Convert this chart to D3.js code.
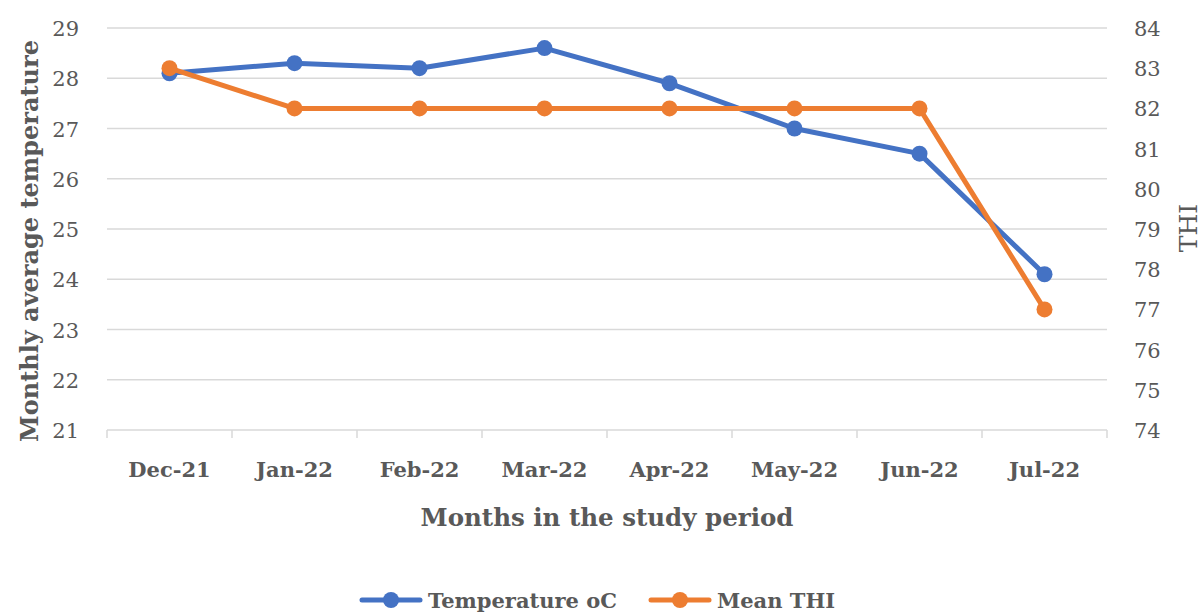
<!DOCTYPE html>
<html>
<head>
<meta charset="utf-8">
<script src="https://cdn.jsdelivr.net/npm/d3@7"></script>
<style>
  body{margin:0;background:#fff;}
  text{font-family:"DejaVu Serif",serif;fill:#595959;}
</style>
</head>
<body>
<div id="chart"></div>
<script>
// data
let months=["Dec-21","Jan-22","Feb-22","Mar-22","Apr-22","May-22","Jun-22","Jul-22"]
let temperature=[28.1,28.3,28.2,28.6,27.9,27.0,26.5,24.1]
let meanTHI=[83,82,82,82,82,82,82,77]
let leftTicks=[21,22,23,24,25,26,27,28,29]
let rightTicks=[74,75,76,77,78,79,80,81,82,83,84]

let width=1203, height=612
let plotLeft=107, plotRight=1107, plotTop=28, plotBottom=430
let blue="#4472C4", orange="#ED7D31"

const svg=d3.select("#chart").append("svg").attr("width",width).attr("height",height)

const x=d3.scaleBand().domain(months).range([plotLeft,plotRight])
const yL=d3.scaleLinear().domain([21,29]).range([plotBottom,plotTop])
const yR=d3.scaleLinear().domain([74,84]).range([plotBottom,plotTop])

// gridlines
svg.append("g").selectAll("line").data(leftTicks.slice(1)).enter().append("line")
  .attr("x1",plotLeft).attr("x2",plotRight).attr("y1",d=>yL(d)).attr("y2",d=>yL(d))
  .attr("stroke","#d9d9d9").attr("stroke-width",1.5)

// x axis
const xAxis=svg.append("g").attr("transform","translate(0,"+plotBottom+")")
xAxis.append("line").attr("x1",plotLeft).attr("x2",plotRight).attr("stroke","#d9d9d9").attr("stroke-width",1.5)
xAxis.selectAll("line.tk").data(d3.range(months.length+1)).enter().append("line").attr("class","tk")
  .attr("x1",i=>plotLeft+i*x.bandwidth()).attr("x2",i=>plotLeft+i*x.bandwidth()).attr("y1",0).attr("y2",8)
  .attr("stroke","#d9d9d9").attr("stroke-width",1.5)
xAxis.selectAll("text").data(months).enter().append("text")
  .attr("x",d=>x(d)+x.bandwidth()/2).attr("y",47).attr("text-anchor","middle")
  .attr("font-size",21).attr("font-weight","bold").text(d=>d)

// left ticks
svg.append("g").selectAll("text").data(leftTicks).enter().append("text")
  .attr("x",79).attr("y",d=>yL(d)+8).attr("text-anchor","end").attr("font-size",21).text(d=>d)
// right ticks
svg.append("g").selectAll("text").data(rightTicks).enter().append("text")
  .attr("x",1134).attr("y",d=>yR(d)+8).attr("font-size",21).text(d=>d)

// axis titles
svg.append("text").attr("transform","translate(38,"+((plotTop+plotBottom)/2+12)+") rotate(-90)")
  .attr("text-anchor","middle").attr("font-size",24).attr("font-weight","bold").text("Monthly average temperature")
svg.append("text").attr("transform","translate(1197,228) rotate(-90)")
  .attr("text-anchor","middle").attr("font-size",25).text("THI")
svg.append("text").attr("x",607).attr("y",526).attr("text-anchor","middle")
  .attr("font-size",24.5).attr("font-weight","bold").text("Months in the study period")

// series
function drawSeries(values,scale,color){
  const line=d3.line().x((d,i)=>x(months[i])+x.bandwidth()/2).y(d=>scale(d))
  svg.append("path").datum(values).attr("d",line).attr("fill","none")
    .attr("stroke",color).attr("stroke-width",5).attr("stroke-linejoin","round")
  svg.append("g").selectAll("circle").data(values).enter().append("circle")
    .attr("cx",(d,i)=>x(months[i])+x.bandwidth()/2).attr("cy",d=>scale(d)).attr("r",8).attr("fill",color)
}
drawSeries(temperature,yL,blue)
drawSeries(meanTHI,yR,orange)

// legend
let legend=[{name:"Temperature oC",color:blue,x:362},{name:"Mean THI",color:orange,x:651}]
const lg=svg.append("g").selectAll("g").data(legend).enter().append("g")
  .attr("transform",d=>"translate("+d.x+",600)")
lg.append("line").attr("x1",0).attr("x2",58).attr("stroke",d=>d.color).attr("stroke-width",5).attr("stroke-linecap","round")
lg.append("circle").attr("cx",29).attr("r",8).attr("fill",d=>d.color)
lg.append("text").attr("x",66).attr("y",8).attr("font-size",21).attr("font-weight","bold").text(d=>d.name)
</script>
</body>
</html>
